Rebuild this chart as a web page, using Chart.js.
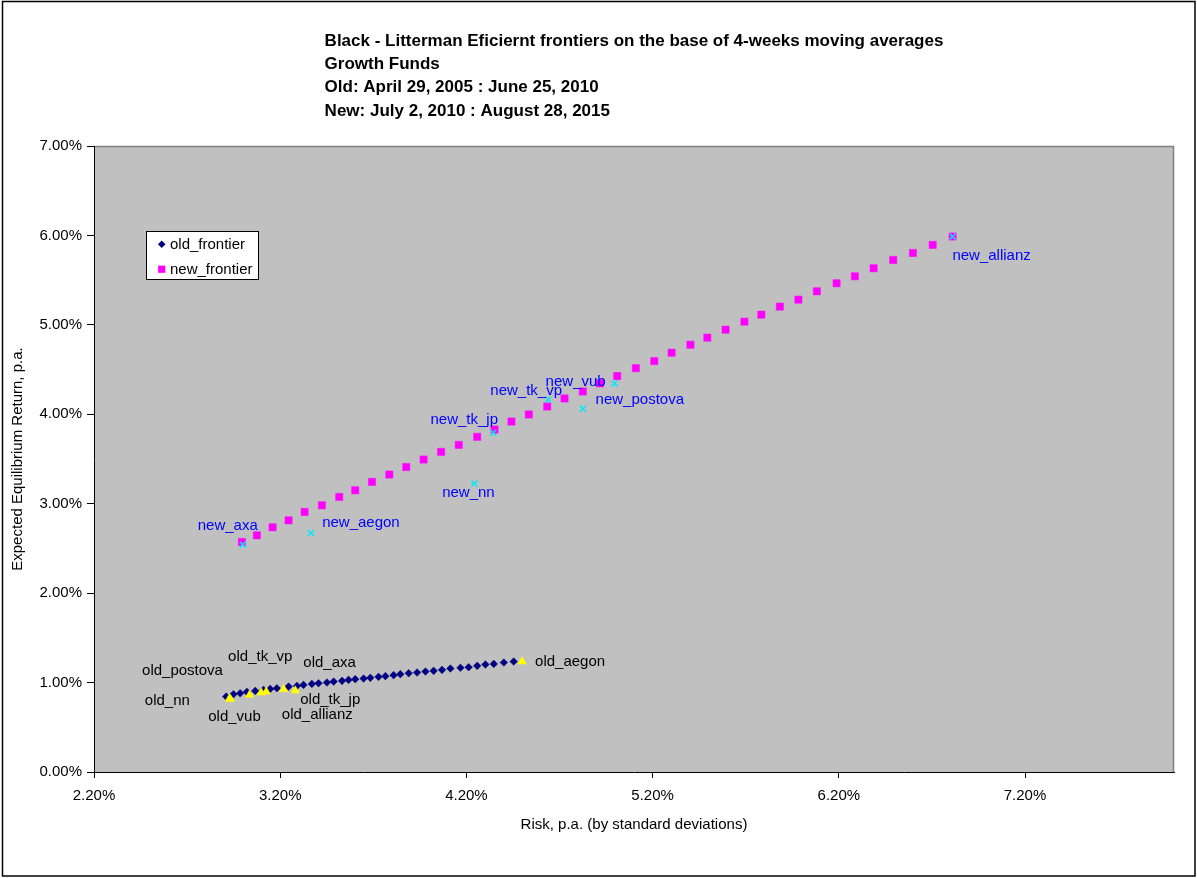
<!DOCTYPE html>
<html>
<head>
<meta charset="utf-8">
<script src="https://cdn.jsdelivr.net/npm/chart.js@4.4.1/dist/chart.umd.min.js"></script>
<style>
  html, body { margin: 0; padding: 0; background: #ffffff; }
  #wrap { width: 1197px; height: 878px; position: relative; }
</style>
</head>
<body>
<div id="wrap"><canvas id="c" width="1197" height="878"></canvas></div>
<script>
// ---------------- DATA (percent) ----------------
const titleLines = [
  "Black - Litterman Eficiernt frontiers on the base of 4-weeks moving averages",
  "Growth Funds",
  "Old: April 29, 2005 : June 25, 2010",
  "New: July 2, 2010 : August 28, 2015"
];
const xAxisTitle = "Risk, p.a. (by standard deviations)";
const yAxisTitle = "Expected Equilibrium Return, p.a.";
const seriesNames = ["old_frontier", "new_frontier"];

const xTickValues = [2.2, 3.2, 4.2, 5.2, 6.2, 7.2];
const yTickValues = [0, 1, 2, 3, 4, 5, 6, 7];

const oldFrontierRisk = [2.910, 2.949, 2.985, 3.021, 3.066, 3.110, 3.146, 3.182, 3.245, 3.290,
  3.325, 3.370, 3.406, 3.451, 3.487, 3.532, 3.567, 3.603, 3.648, 3.684,
  3.728, 3.765, 3.809, 3.845, 3.890, 3.935, 3.980, 4.024, 4.069, 4.114,
  4.168, 4.212, 4.258, 4.302, 4.347, 4.401, 4.454];
const oldFrontierReturn = [0.843, 0.870, 0.881, 0.896, 0.907, 0.918, 0.929, 0.937, 0.955, 0.963,
  0.974, 0.985, 0.993, 1.000, 1.011, 1.019, 1.030, 1.038, 1.045, 1.053,
  1.064, 1.072, 1.083, 1.094, 1.105, 1.112, 1.123, 1.131, 1.142, 1.157,
  1.165, 1.172, 1.187, 1.202, 1.209, 1.224, 1.235];

const newFrontierRisk = [2.994, 3.075, 3.159, 3.245, 3.331, 3.424, 3.517, 3.603, 3.693, 3.786,
  3.877, 3.970, 4.064, 4.159, 4.258, 4.351, 4.442, 4.535, 4.634, 4.727,
  4.825, 4.917, 5.010, 5.110, 5.209, 5.302, 5.403, 5.494, 5.592, 5.693,
  5.784, 5.883, 5.983, 6.082, 6.188, 6.286, 6.387, 6.492, 6.598, 6.704, 6.811];
const newFrontierReturn = [2.572, 2.646, 2.736, 2.814, 2.908, 2.982, 3.076, 3.150, 3.244, 3.326,
  3.410, 3.494, 3.580, 3.658, 3.748, 3.830, 3.919, 3.998, 4.087, 4.177,
  4.255, 4.345, 4.427, 4.516, 4.595, 4.689, 4.778, 4.857, 4.946, 5.036,
  5.114, 5.204, 5.282, 5.375, 5.465, 5.543, 5.633, 5.726, 5.804, 5.894, 5.988];

const oldFundNames  = ["old_nn", "old_vub", "old_postova", "old_tk_vp", "old_tk_jp", "old_axa", "old_allianz", "old_aegon"];
const oldFundRisk   = [2.927, 2.933, 3.035, 3.098, 3.125, 3.218, 3.281, 4.499];
const oldFundReturn = [0.820, 0.815, 0.862, 0.888, 0.899, 0.926, 0.910, 1.235];

const newFundNames  = ["new_axa", "new_aegon", "new_nn", "new_tk_jp", "new_tk_vp", "new_postova", "new_vub", "new_allianz"];
const newFundRisk   = [2.999, 3.365, 4.243, 4.344, 4.639, 4.825, 4.996, 6.811];
const newFundReturn = [2.542, 2.673, 3.225, 3.793, 4.166, 4.062, 4.345, 5.988];

// ---------------- LAYOUT / STYLE ----------------
const FONT = "'Liberation Sans', Arial, sans-serif";
const labelOffsets = {
  old_nn: [-62, 2], old_vub: [4, 18], old_postova: [-67, -24], old_tk_vp: [-1, -36],
  old_tk_jp: [64, 8], old_axa: [46, -26], old_allianz: [22, 24], old_aegon: [48, 0],
  new_axa: [-15, -19], new_aegon: [50, -10], new_nn: [-6, 9], new_tk_jp: [-29, -13],
  new_tk_vp: [-22, -9], new_postova: [57, -9], new_vub: [-39, -2], new_allianz: [39, 19]
};

const toXY = (xs, ys) => xs.map((x, i) => ({ x: x, y: ys[i] }));

const chromePlugin = {
  id: 'chrome',
  beforeDraw(chart) {
    const ctx = chart.ctx, a = chart.chartArea;
    ctx.save();
    ctx.fillStyle = '#ffffff';
    ctx.fillRect(0, 0, chart.width, chart.height);
    // outer border
    ctx.strokeStyle = '#000000';
    ctx.lineWidth = 1.5;
    ctx.strokeRect(2.5, 1.5, chart.width - 4.5, chart.height - 3.5);
    // plot area
    ctx.fillStyle = '#c0c0c0';
    ctx.fillRect(a.left, a.top, a.right - a.left, a.bottom - a.top);
    ctx.strokeStyle = '#808080';
    ctx.lineWidth = 1.5;
    ctx.beginPath();
    ctx.moveTo(a.left, a.top + 0.5);
    ctx.lineTo(a.right - 0.5, a.top + 0.5);
    ctx.lineTo(a.right - 0.5, a.bottom);
    ctx.stroke();
    // title (left-aligned block, ending near the plot centre + half width)
    ctx.fillStyle = '#000000';
    ctx.font = 'bold 17px ' + FONT;
    ctx.textBaseline = 'middle';
    ctx.textAlign = 'left';
    let w = 0;
    titleLines.forEach(t => { w = Math.max(w, ctx.measureText(t).width); });
    const left = (a.left + a.right) / 2 - w / 2;
    const ys = [41, 64, 87, 111];
    titleLines.forEach((t, i) => ctx.fillText(t, left, ys[i]));
    // axis titles
    ctx.font = '15px ' + FONT;
    ctx.textAlign = 'center';
    ctx.fillText(xAxisTitle, (a.left + a.right) / 2, 825);
    ctx.save();
    ctx.translate(18, (a.top + a.bottom) / 2);
    ctx.rotate(-Math.PI / 2);
    ctx.fillText(yAxisTitle, 0, 0);
    ctx.restore();
    ctx.restore();
  },
  afterDraw(chart) {
    const ctx = chart.ctx;
    ctx.save();
    // legend box
    ctx.fillStyle = '#ffffff';
    ctx.fillRect(146.5, 231.5, 112, 48);
    ctx.strokeStyle = '#000000';
    ctx.lineWidth = 1;
    ctx.strokeRect(146.5, 231.5, 112, 48);
    // old frontier marker (diamond)
    ctx.fillStyle = '#000080';
    ctx.beginPath();
    ctx.moveTo(161.7 - 3.8, 244.3); ctx.lineTo(161.7, 244.3 - 3.8);
    ctx.lineTo(161.7 + 3.8, 244.3); ctx.lineTo(161.7, 244.3 + 3.8);
    ctx.closePath(); ctx.fill();
    // new frontier marker (square)
    ctx.fillStyle = '#ff00ff';
    ctx.fillRect(158.1, 265.6, 7.2, 7.2);
    ctx.fillStyle = '#000000';
    ctx.font = '15px ' + FONT;
    ctx.textAlign = 'left';
    ctx.textBaseline = 'middle';
    ctx.fillText(seriesNames[0], 170, 244.5);
    ctx.fillText(seriesNames[1], 170, 269.5);
    ctx.restore();
  }
};

const labelPlugin = {
  id: 'pointLabels',
  afterDatasetsDraw(chart) {
    const ctx = chart.ctx;
    ctx.save();
    ctx.font = '15px ' + FONT;
    ctx.textAlign = 'center';
    ctx.textBaseline = 'middle';
    chart.data.datasets.forEach((ds, di) => {
      if (!ds.names) return;
      const meta = chart.getDatasetMeta(di);
      ctx.fillStyle = ds.labelColor;
      ds.names.forEach((n, i) => {
        const el = meta.data[i];
        const off = labelOffsets[n] || [0, 0];
        ctx.fillText(n, el.x + off[0], el.y + off[1]);
      });
    });
    ctx.restore();
  }
};

new Chart(document.getElementById('c'), {
  type: 'scatter',
  data: {
    datasets: [
      {
        label: seriesNames[0],
        data: toXY(oldFrontierRisk, oldFrontierReturn),
        pointStyle: 'rectRot', pointRadius: 3.8, pointHoverRadius: 3.8,
        backgroundColor: '#000080', borderColor: '#000080', borderWidth: 0.5,
        order: 4
      },
      {
        label: seriesNames[1],
        data: toXY(newFrontierRisk, newFrontierReturn),
        pointStyle: 'rect', pointRadius: 5.1, pointHoverRadius: 5.1,
        backgroundColor: '#ff00ff', borderColor: '#ff00ff', borderWidth: 0.5,
        order: 3
      },
      {
        label: 'old funds',
        names: oldFundNames, labelColor: '#000000',
        data: toXY(oldFundRisk, oldFundReturn),
        pointStyle: 'triangle', pointRadius: 4.9, pointHoverRadius: 4.9,
        backgroundColor: '#ffff00', borderColor: '#ffff00', borderWidth: 0.5,
        order: 2
      },
      {
        label: 'new funds',
        names: newFundNames, labelColor: '#0000ff',
        data: toXY(newFundRisk, newFundReturn),
        pointStyle: 'crossRot', pointRadius: 4.2, pointHoverRadius: 4.2,
        backgroundColor: '#00ffff', borderColor: '#00e8ff', borderWidth: 1.5,
        order: 1
      }
    ]
  },
  options: {
    responsive: false,
    animation: false,
    events: [],
    layout: { padding: { top: 146, left: 0, right: 23, bottom: 0 } },
    plugins: { legend: { display: false }, title: { display: false }, tooltip: { enabled: false } },
    scales: {
      x: {
        type: 'linear', min: 2.2, max: 8.0,
        afterBuildTicks: s => { s.ticks = xTickValues.map(v => ({ value: v })); },
        afterFit: s => { s.height = 106; },
        grid: { display: true, drawOnChartArea: false, drawTicks: true, tickLength: 6, tickColor: '#000000', tickWidth: 1 },
        border: { display: true, color: '#000000', width: 1 },
        ticks: { padding: 9, color: '#000000', font: { family: FONT, size: 15 },
                 maxRotation: 0, autoSkip: false,
                 callback: v => Number(v).toFixed(2) + '%' }
      },
      y: {
        type: 'linear', min: 0, max: 7,
        afterBuildTicks: s => { s.ticks = yTickValues.map(v => ({ value: v })); },
        afterFit: s => { s.width = 94; },
        grid: { display: true, drawOnChartArea: false, drawTicks: true, tickLength: 7, tickColor: '#000000', tickWidth: 1 },
        border: { display: true, color: '#000000', width: 1 },
        ticks: { padding: 5, color: '#000000', font: { family: FONT, size: 15 },
                 autoSkip: false,
                 callback: v => Number(v).toFixed(2) + '%' }
      }
    }
  },
  plugins: [chromePlugin, labelPlugin]
});
</script>
</body>
</html>
